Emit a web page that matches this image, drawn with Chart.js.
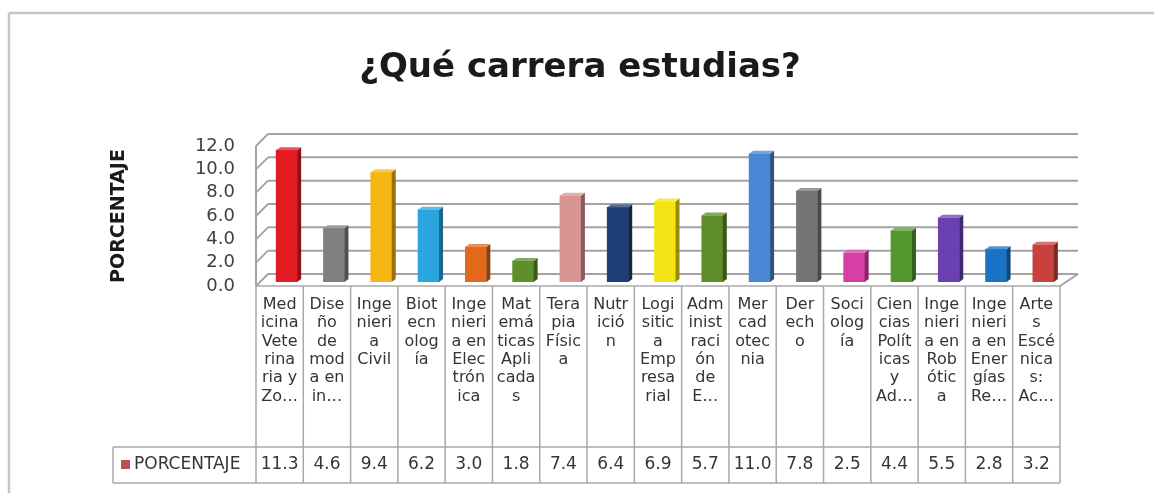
<!DOCTYPE html>
<html>
<head>
<meta charset="utf-8">
<script src="https://cdn.jsdelivr.net/npm/chart.js@4"></script>
<style>
  html, body { margin: 0; padding: 0; background: #fff; }
  #wrap { width: 1154px; height: 493px; }
</style>
</head>
<body>
<div id="wrap"><canvas id="Carreras"></canvas></div>
<script>
(function () {
  "use strict";

  // Categories as they wrap in the data table cells
  const categories = [
    ['Med', 'icina', 'Vete', 'rina', 'ria y', 'Zo…'],
    ['Dise', 'ño', 'de', 'mod', 'a en', 'in…'],
    ['Inge', 'nieri', 'a', 'Civil'],
    ['Biot', 'ecn', 'olog', 'ía'],
    ['Inge', 'nieri', 'a en', 'Elec', 'trón', 'ica'],
    ['Mat', 'emá', 'ticas', 'Apli', 'cada', 's'],
    ['Tera', 'pia', 'Físic', 'a'],
    ['Nutr', 'ició', 'n'],
    ['Logi', 'sitic', 'a', 'Emp', 'resa', 'rial'],
    ['Adm', 'inist', 'raci', 'ón', 'de', 'E…'],
    ['Mer', 'cad', 'otec', 'nia'],
    ['Der', 'ech', 'o'],
    ['Soci', 'olog', 'ía'],
    ['Cien', 'cias', 'Polít', 'icas', 'y', 'Ad…'],
    ['Inge', 'nieri', 'a en', 'Rob', 'ótic', 'a'],
    ['Inge', 'nieri', 'a en', 'Ener', 'gías', 'Re…'],
    ['Arte', 's', 'Escé', 'nica', 's:', 'Ac…']
  ];
  const porcentaje = [11.3, 4.6, 9.4, 6.2, 3.0, 1.8, 7.4, 6.4, 6.9, 5.7, 11.0, 7.8, 2.5, 4.4, 5.5, 2.8, 3.2];
  const yTicks = [0, 2, 4, 6, 8, 10, 12];
  const seriesName = 'PORCENTAJE';

  const barColors = [
    '#e31b23', '#7f7f7f', '#f6b614', '#2ba5df', '#e2691b', '#5f8f28',
    '#d99594', '#1d3f78', '#f2e414', '#5e8c2a', '#4a86d4', '#757575',
    '#d63fa3', '#52982f', '#6a41b0', '#1a72c6', '#c8413c'
  ];
  const gridColor = '#a3a3a3';
  const tableColor = '#a8a8a8';
  const textColor = '#353535';

  function shade(hex, f) {
    const h = hex.replace('#', '');
    const c = [0, 2, 4].map(function (i) { return parseInt(h.substr(i, 2), 16); });
    const out = c.map(function (v) {
      return Math.round(f < 1 ? v * f : v + (255 - v) * (f - 1));
    });
    return 'rgb(' + out.join(',') + ')';
  }

  function line(ctx, x1, y1, x2, y2) {
    ctx.beginPath();
    ctx.moveTo(x1, y1);
    ctx.lineTo(x2, y2);
    ctx.stroke();
  }

  // back wall, side wall and floor of the excel 3d look
  const walls = {
    id: 'walls',
    beforeDraw(chart) {
      const ctx = chart.ctx;
      ctx.save();
      ctx.fillStyle = '#fff';
      ctx.fillRect(0, 0, chart.width, chart.height);
      ctx.strokeStyle = '#c6c6c6';
      ctx.lineWidth = 2.5;
      line(ctx, 9, 13, chart.width, 13);
      line(ctx, 9, 13, 9, chart.height);
      ctx.restore();
    },
    beforeDatasetsDraw(chart) {
      const ctx = chart.ctx;
      const a = chart.chartArea;
      const ys = chart.scales.y;
      ctx.save();
      ctx.strokeStyle = gridColor;
      ctx.lineWidth = 2;
      yTicks.forEach(function (v) {
        const y = ys.getPixelForValue(v);
        line(ctx, a.left + 12, y - 12, a.right + 18, y - 12);
        line(ctx, a.left, y, a.left + 12, y - 12);
      });
      line(ctx, a.left, ys.getPixelForValue(0), a.left, ys.getPixelForValue(12));
      const y0 = ys.getPixelForValue(0);
      line(ctx, a.right, y0, a.right + 18, y0 - 12);
      ctx.restore();

      // bars sit half way into the depth
      ctx.save();
      ctx.translate(7, -4);
    },
    afterDatasetsDraw(chart) {
      const ctx = chart.ctx;
      const meta = chart.getDatasetMeta(0);
      meta.data.forEach(function (bar, i) {
        const p = bar.getProps(['x', 'y', 'base', 'width'], true);
        const l = p.x - p.width / 2, r = p.x + p.width / 2;
        ctx.fillStyle = shade(barColors[i], 0.62);
        ctx.beginPath();
        ctx.moveTo(r, p.y);
        ctx.lineTo(r + 4, p.y - 3);
        ctx.lineTo(r + 4, p.base - 3);
        ctx.lineTo(r, p.base);
        ctx.closePath();
        ctx.fill();
        ctx.fillStyle = shade(barColors[i], 1.25);
        ctx.beginPath();
        ctx.moveTo(l, p.y);
        ctx.lineTo(l + 4, p.y - 3);
        ctx.lineTo(r + 4, p.y - 3);
        ctx.lineTo(r, p.y);
        ctx.closePath();
        ctx.fill();
      });
      ctx.restore();
    }
  };

  // data table under the plot
  const dataTable = {
    id: 'dataTable',
    afterDraw(chart) {
      const ctx = chart.ctx;
      const a = chart.chartArea;
      const xs = chart.scales.x;
      const n = categories.length;
      const colW = (a.right - a.left) / n;
      const top = a.bottom;
      const rowTop = 447, rowBot = 483, legLeft = 113;
      ctx.save();
      ctx.strokeStyle = tableColor;
      ctx.lineWidth = 1.5;
      line(ctx, a.left, top, a.right, top);
      line(ctx, legLeft, rowTop, a.right, rowTop);
      line(ctx, legLeft, rowBot, a.right, rowBot);
      line(ctx, legLeft, rowTop, legLeft, rowBot);
      for (let i = 0; i <= n; i++) {
        const x = a.left + i * colW;
        line(ctx, x, top, x, rowBot);
      }
      ctx.fillStyle = textColor;
      ctx.textAlign = 'center';
      ctx.textBaseline = 'middle';
      categories.forEach(function (lines, i) {
        const cx = xs.getPixelForValue(i);
        ctx.font = '16px "DejaVu Sans"';
        lines.forEach(function (t, k) {
          ctx.fillText(t, cx, 305 + k * 18.3);
        });
        ctx.font = '17px "DejaVu Sans"';
        ctx.fillText(porcentaje[i].toFixed(1), cx, 465);
      });
      ctx.fillStyle = '#c0504d';
      ctx.fillRect(121, 460, 9, 9);
      ctx.fillStyle = textColor;
      ctx.textAlign = 'left';
      ctx.font = '17px "DejaVu Sans"';
      ctx.fillText(seriesName, 134, 465);
      ctx.restore();
    }
  };

  const ctx = document.getElementById('Carreras').getContext('2d');
  new Chart(ctx, {
    type: 'bar',
    data: {
      labels: categories,
      datasets: [{
        label: seriesName,
        data: porcentaje,
        backgroundColor: barColors,
        borderWidth: 0,
        barThickness: 21
      }]
    },
    options: {
      responsive: true,
      maintainAspectRatio: false,
      animation: false,
      layout: {
        padding: { top: 40, left: 100, right: 94, bottom: 207 }
      },
      scales: {
        x: {
          display: false
        },
        y: {
          min: 0,
          max: 12,
          afterFit: function (scale) { scale.width = 156; },
          afterBuildTicks: function (scale) {
            scale.ticks = yTicks.map(function (v) { return { value: v }; });
          },
          grid: { display: false, drawTicks: false },
          border: { display: false },
          ticks: {
            autoSkip: false,
            padding: 21,
            color: '#404040',
            font: { family: 'DejaVu Sans', size: 18, lineHeight: 1 },
            callback: function (v) { return Number(v).toFixed(1); }
          },
          title: {
            display: true,
            text: seriesName,
            color: '#1a1a1a',
            font: { family: 'DejaVu Sans', size: 19, weight: 'bold' },
            padding: { top: 8, bottom: 0 }
          }
        }
      },
      plugins: {
        legend: { display: false },
        tooltip: { enabled: false },
        title: {
          display: true,
          text: '¿Qué carrera estudias?',
          color: '#1a1a1a',
          font: { family: 'DejaVu Sans', size: 34, weight: 'bold', lineHeight: 1.2 },
          padding: { top: 8, bottom: 57.2 }
        }
      }
    },
    plugins: [walls, dataTable]
  });
})();
</script>
</body>
</html>
